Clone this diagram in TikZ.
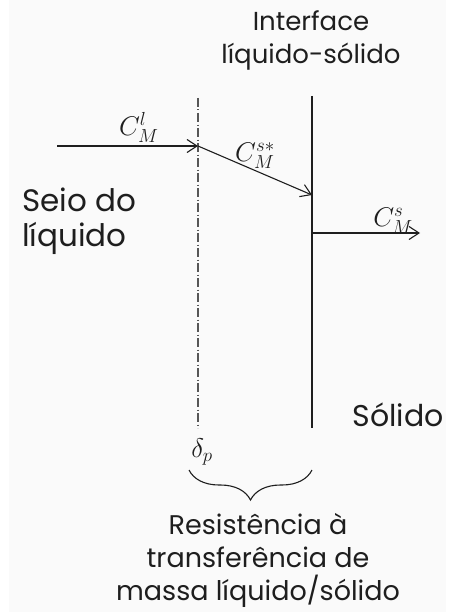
\documentclass[tikz,border=0pt]{standalone}
\usepackage{fix-cm}
\usepackage{amsmath,amssymb}
\usepackage{fontspec}
\setmainfont{Poppins}
\usepackage{tikz}
\usetikzlibrary{calc}
\usetikzlibrary{arrows.meta}
\usetikzlibrary{decorations.pathreplacing}

\definecolor{paper}{RGB}{250,250,250}
\definecolor{ink}{RGB}{30,30,30}

\begin{document}
\begin{tikzpicture}[x=1pt, y=-1pt, >={Straight Barb[length=10pt, width=13pt]},
    flux/.style={->, line width=1.1pt, ink},
    conc/.style={font=\fontsize{27}{31}\selectfont, ink, inner sep=1pt},
    region/.style={font=\fontsize{27}{33}\selectfont, ink, inner sep=0pt}]

% --- CANVAS ---
\useasboundingbox (0,0) rectangle (448,615);
\fill[white] (0,0) rectangle (448,615);
\fill[paper] (9,0) rectangle (446,612);

% --- BOUNDARIES: FILM EDGE AND INTERFACE ---
\coordinate (filmtop) at (198, 98);
\coordinate (filmbot) at (198, 428);
\coordinate (inttop) at (312, 96);
\coordinate (intbot) at (312, 428);

\draw[line width=1.1pt, ink!75, dash pattern=on 9pt off 2.5pt on 1pt off 2.5pt]
    (filmtop) -- (filmbot);
\draw[line width=1.2pt, ink] (inttop) -- (intbot);

% --- FLUXES ---
\coordinate (bulk) at (57, 146);
\coordinate (film) at (198, 146);
\coordinate (wall) at (312, 195);
\coordinate (out) at (312, 233);
\coordinate (solid) at (420, 233);

\draw[flux] (bulk) -- (film)
    node[conc, pos=0.58, above=2pt] (cl) {$C_M^l$};
\draw[flux] (film) -- (wall)
    node[conc, midway, above=0pt] (csstar) {$C_M^{s*}$};
\draw[flux] (out) -- (solid)
    node[conc, pos=0.75, above=-2pt] (cs) {$C_M^s$};

% --- REGION LABELS ---
\node[region, align=center, font=\fontsize{26}{33}\selectfont] (interface) at (311, 40) {Interface\\líquido-sólido};
\node[region, align=left, anchor=west, font=\fontsize{31}{35}\selectfont] (bulkliq) at (22, 221) {Seio do\\líquido};
\node[region, font=\fontsize{30}{36}\selectfont] (solido) at (398, 415) {Sólido};

% --- FILM THICKNESS AND RESISTANCE ---
\node[conc] (delta) at (202, 452) {$\delta_p$};
\coordinate (braceL) at (189, 470);
\coordinate (braceR) at (312, 470);
\draw[line width=1.1pt, ink, decorate, decoration={brace, mirror, amplitude=30pt}]
    (braceL) -- (braceR);
\node[region, align=center] (resist) at (258, 560)
    {Resistência à\\transferência de\\massa líquido/sólido};

\end{tikzpicture}
\end{document}
